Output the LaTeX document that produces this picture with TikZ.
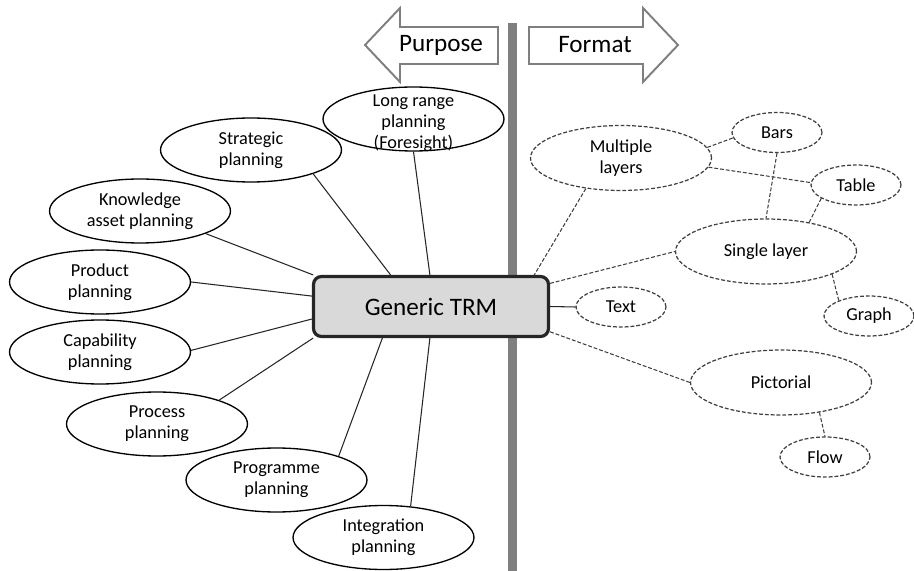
\documentclass[tikz,border=0pt]{standalone}
\usepackage{fontspec}
\setmainfont{Carlito}
\usetikzlibrary{shapes.geometric}
\definecolor{barGray}{HTML}{7F7F7F}
\definecolor{boxFill}{HTML}{D9D9D9}
\definecolor{boxLine}{HTML}{262626}
\definecolor{dashLine}{HTML}{404040}

\begin{document}
\begin{tikzpicture}[x=0.02cm, y=-0.02cm,
  lbl/.style={align=center, font=\fontsize{10.4}{12}\selectfont, inner sep=0pt},
  purpbubble/.style={ellipse, draw=black, line width=0.75pt,
    minimum width=3.62cm, minimum height=1.28cm, inner sep=0pt},
  fmtbig/.style={ellipse, draw=dashLine, line width=0.7pt, dash pattern=on 2.2pt off 1.1pt,
    minimum width=3.62cm, minimum height=1.3cm, inner sep=0pt},
  fmtsmall/.style={fmtbig, minimum width=1.8cm, minimum height=0.8cm},
  purpline/.style={draw=black!85, line width=0.6pt},
  fmtline/.style={draw=dashLine, line width=0.6pt, dash pattern=on 2.2pt off 1.1pt},
  bigarrow/.style={draw=barGray, line width=1.1pt, fill=white, line join=miter},
  headtext/.style={font=\fontsize{14.3}{17}\selectfont, inner sep=0pt}
]
\useasboundingbox (0,0) rectangle (914,571);

% dividing bar
\fill[barGray] (508,23) rectangle (517,571);

% direction arrows
\draw[bigarrow] (365,45) -- (400,8) -- (400,27) -- (498,27) -- (498,64) -- (400,64) -- (400,82) -- cycle;
\node[headtext] (purpose) at (441,45) {Purpose};
\draw[bigarrow] (678,45) -- (643,8) -- (643,27) -- (529,27) -- (529,64) -- (643,64) -- (643,82) -- cycle;
\node[headtext] (format) at (595,45) {Format};

% central node
\node[draw=boxLine, fill=boxFill, rounded corners=4.5pt, line width=1.8pt,
  minimum width=4.7cm, minimum height=1.2cm, headtext] (trm) at (431,306.5) {Generic TRM};

% purpose bubbles
\node[purpbubble, label={[lbl, yshift=-0.08cm]center:Long range\\planning\\(Foresight)}] (lr) at (413.5,119) {};
\node[purpbubble, label={[lbl]center:Strategic\\planning}] (strat) at (251,150) {};
\node[purpbubble, label={[lbl]center:Knowledge\\asset planning}] (know) at (140,211) {};
\node[purpbubble, label={[lbl]center:Product\\planning}] (prod) at (100,282) {};
\node[purpbubble, label={[lbl]center:Capability\\planning}] (capab) at (100,352) {};
\node[purpbubble, label={[lbl]center:Process\\planning}] (proc) at (157,424) {};
\node[purpbubble, label={[lbl]center:Programme\\planning}] (prog) at (276.5,480) {};
\node[purpbubble, label={[lbl]center:Integration\\planning}] (integ) at (383.5,537.5) {};

\draw[purpline] (lr.south) -- (trm.92);
\draw[purpline] (strat.-21.5) -- (trm.142);
\draw[purpline] (know.-19.7) -- (trm.165);
\draw[purpline] (prod.0) -- (trm.175);
\draw[purpline] (capab.1) -- (trm.186.5);
\draw[purpline] (proc.21) -- (trm.195.5);
\draw[purpline] (prog.21) -- (trm.213);
\draw[purpline] (integ.49) -- (trm.268);

% format bubbles
\node[fmtbig, label={[lbl]center:Multiple\\layers}] (ml) at (621,158) {};
\node[fmtsmall, label={[lbl]center:Bars}] (bars) at (777,132.5) {};
\node[fmtsmall, label={[lbl]center:Table}] (table) at (856,185) {};
\node[fmtbig, label={[lbl]center:Single layer}] (single) at (766,251.5) {};
\node[fmtsmall, label={[lbl]center:Text}] (txt) at (621,307) {};
\node[fmtsmall, label={[lbl]center:Graph}] (graph) at (869,316) {};
\node[fmtbig, label={[lbl]center:Pictorial}] (pict) at (781,382.5) {};
\node[fmtsmall, label={[lbl]center:Flow}] (flow) at (825,457) {};

\draw[fmtline] (ml.221) -- (trm.17.3);
\draw[fmtline] (trm.11.6) -- (single.180);
\draw[purpline] (trm.east) -- (txt.west);
\draw[fmtline] (trm.-12.6) -- (pict.180);
\draw[fmtline] (ml.7) -- (bars.187);
\draw[fmtline] (ml.-6) -- (table.177);
\draw[fmtline] (bars.south) -- (single.north);
\draw[fmtline] (table.201.5) -- (single.34);
\draw[fmtline] (single.-19.6) -- (graph.153);
\draw[fmtline] (pict.-38.4) -- (flow.north);
\end{tikzpicture}
\end{document}
